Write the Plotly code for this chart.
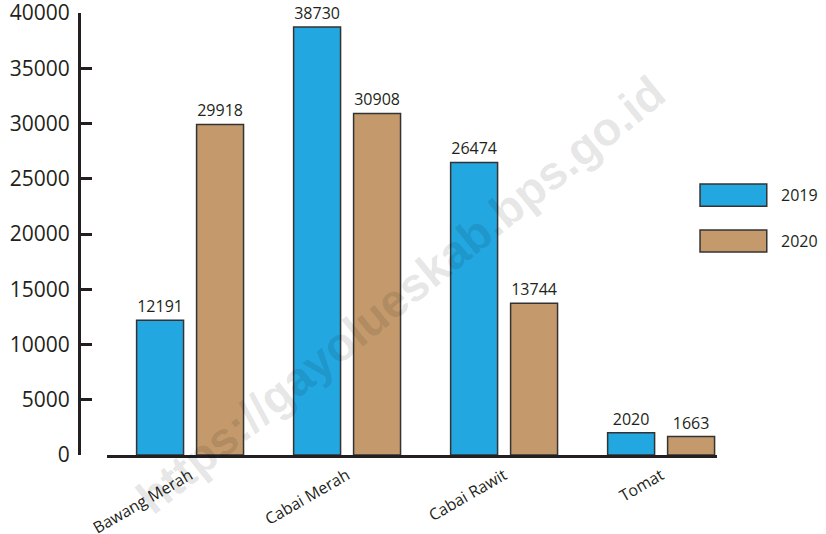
import plotly.graph_objects as go

categories = ["Bawang Merah", "Cabai Merah", "Cabai Rawit", "Tomat"]
values_2019 = [12191, 38730, 26474, 2020]
values_2020 = [29918, 30908, 13744, 1663]
series_names = ["2019", "2020"]
tick_vals = [0, 5000, 10000, 15000, 20000, 25000, 30000, 35000, 40000]
tick_text = ["0", "5000", "10000", "15000", "20000", "25000", "30000", "35000", "40000"]

BLUE = "#23A7E0"
TAN = "#C49A6C"
INK = "#231F20"
FONT = "Open Sans"

fig = go.Figure()
for name, vals, col in [(series_names[0], values_2019, BLUE), (series_names[1], values_2020, TAN)]:
    fig.add_trace(go.Bar(
        x=categories, y=vals, name=name,
        marker=dict(color=col, line=dict(color="#333333", width=1.5)),
        text=[str(v) for v in vals], textposition="outside",
        textfont=dict(family=FONT, size=16, color=INK),
        cliponaxis=False, showlegend=False,
    ))

# watermark
fig.add_shape(type="rect", xref="paper", yref="paper", x0=0.40, x1=0.60, y0=0.33, y1=0.41,
              line=dict(width=0), fillcolor="rgba(0,0,0,0)", layer="above",
              label=dict(text="https://gayolueskab.bps.go.id", textangle=-39,
                         textposition="middle center",
                         font=dict(family="Liberation Sans", size=47, color="rgba(0,0,0,0.11)", weight="bold")))

# legend drawn manually
leg = [(series_names[0], BLUE, 0.613, 0.563), (series_names[1], TAN, 0.509, 0.459)]
for name, col, ytop, ybot in leg:
    fig.add_shape(type="rect", xref="paper", yref="paper", x0=0.9734, x1=1.078, y0=ybot, y1=ytop,
                  fillcolor=col, line=dict(color="#333333", width=1.5))
    fig.add_annotation(xref="paper", yref="paper", x=1.097, y=(ytop + ybot) / 2, text=name,
                       showarrow=False, xanchor="left", yanchor="middle",
                       font=dict(family=FONT, size=16, color=INK))

fig.update_layout(
    width=826, height=534,
    margin=dict(l=79, r=109, t=13, b=79, autoexpand=False),
    paper_bgcolor="white", plot_bgcolor="white",
    barmode="group", bargap=0.236, bargroupgap=0.217,
    font=dict(family=FONT, color=INK),
    xaxis=dict(domain=[0.0439, 1], range=[-0.529, 3.356], showline=True, linewidth=3, linecolor=INK,
               ticks="", tickangle=-30, tickfont=dict(family=FONT, size=16, color=INK),
               showgrid=False, zeroline=False, automargin=False, ticklabelstandoff=2),
    yaxis=dict(anchor="free", position=0, range=[0, 40000], tickvals=tick_vals, ticktext=tick_text,
               showline=True, linewidth=3, linecolor=INK, ticks="inside", ticklen=11,
               tickwidth=3, tickcolor=INK, tickfont=dict(family=FONT, size=21, color=INK),
               showgrid=False, zeroline=False, ticklabelstandoff=4, automargin=False,
               ticklabeloverflow="allow"),
)

fig.write_html("out.html", config={"displayModeBar": False},
               post_script="document.body.style.margin='0';document.body.style.overflow='hidden';")
